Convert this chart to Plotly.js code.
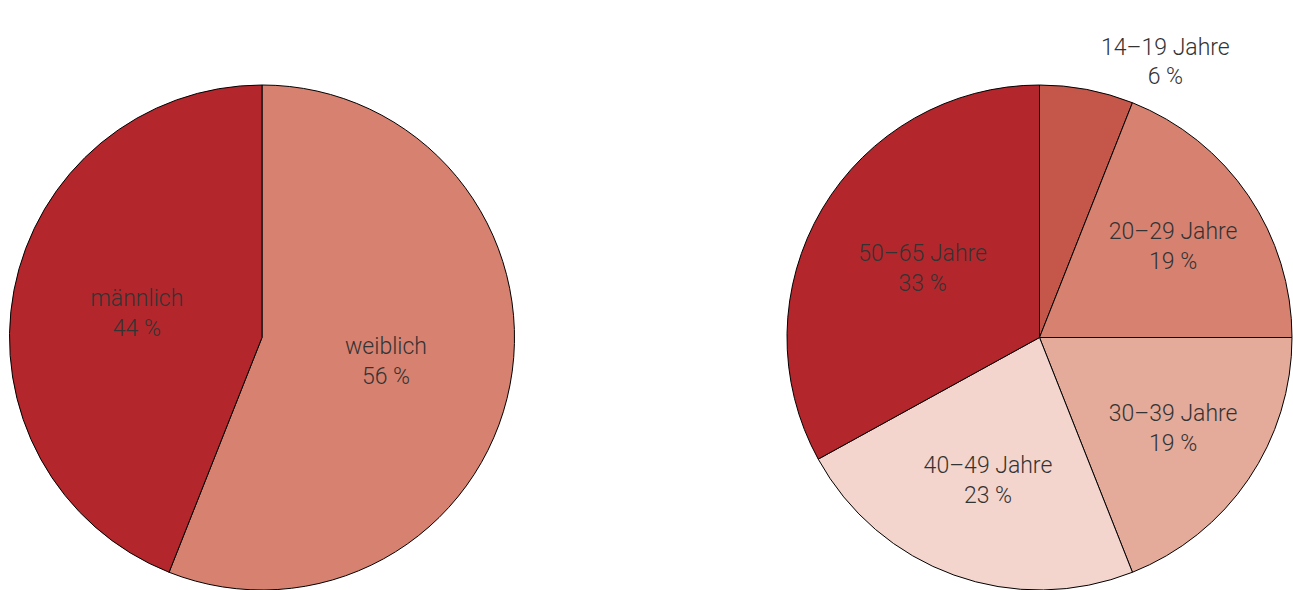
<!DOCTYPE html>
<html>
<head>
<meta charset="utf-8">
<script src="https://cdn.plot.ly/plotly-3.0.1.min.js"></script>
<style>html,body{margin:0;padding:0;background:#fff}#chart{width:1293px;height:590px}</style>
</head>
<body>
<div id="chart"></div>
<script>
const genderLabels = ['weiblich', 'männlich'];
const genderValues = [56, 44];
const genderColors = ['#D78271', '#B3272C'];

const ageLabels = ['14–19 Jahre', '20–29 Jahre', '30–39 Jahre', '40–49 Jahre', '50–65 Jahre'];
const ageValues = [6, 19, 19, 23, 33];
const ageColors = ['#C4564A', '#D78271', '#E4AA9A', '#F3D5CD', '#B3272C'];
const agePositions = ['outside', 'inside', 'inside', 'inside', 'inside'];

const font = {family: 'Roboto, Liberation Sans, Arial, sans-serif', size: 23, color: '#333333', weight: 300};

const common = {
  type: 'pie',
  sort: false,
  direction: 'clockwise',
  rotation: 0,
  texttemplate: '%{label}<br>%{value} %',
  hoverinfo: 'none',
  insidetextorientation: 'horizontal',
  textfont: font,
  insidetextfont: font,
  outsidetextfont: font,
  showlegend: false
};

const data = [
  Object.assign({}, common, {
    labels: genderLabels,
    values: genderValues,
    marker: {colors: genderColors, line: {color: '#000', width: 1}},
    textposition: 'inside',
    domain: {x: [9/1293, 515/1293], y: [0, 505/590]}
  }),
  Object.assign({}, common, {
    labels: ageLabels,
    values: ageValues,
    marker: {colors: ageColors, line: {color: '#000', width: 1}},
    textposition: agePositions,
    domain: {x: [786/1293, 1], y: [0, 505/590]}
  })
];

const layout = {
  width: 1293, height: 590,
  margin: {l: 0, r: 0, t: 0, b: 0},
  paper_bgcolor: '#fff',
  plot_bgcolor: '#fff',
  font: font
};

Plotly.newPlot('chart', data, layout, {displayModeBar: false, staticPlot: true});
</script>
</body>
</html>
